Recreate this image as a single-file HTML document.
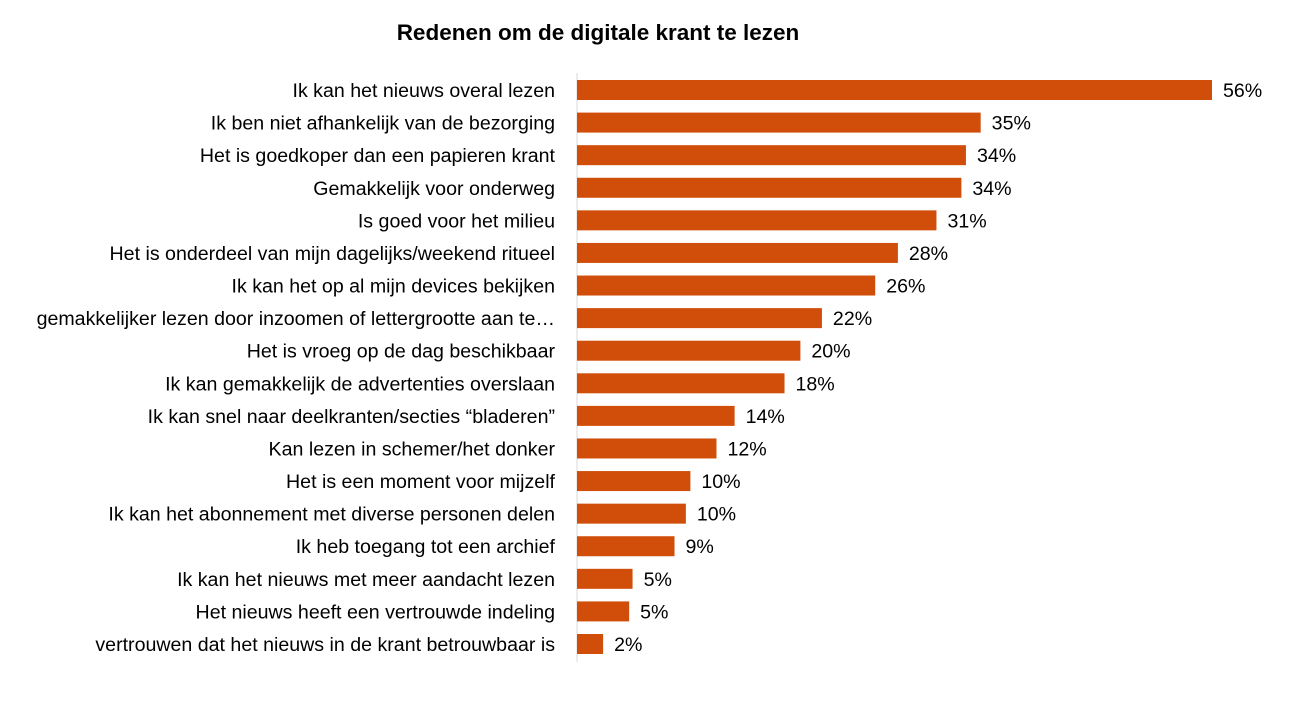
<!DOCTYPE html>
<html><head><meta charset="utf-8"><style>
html,body{margin:0;padding:0;background:#fff;}
svg{display:block;font-family:"Liberation Sans",Arial,sans-serif;}
</style></head><body>
<svg id="chart" width="1302" height="703" viewBox="0 0 1302 703">
<text x="598" y="40" text-anchor="middle" font-size="22.5" font-weight="bold" fill="#000">Redenen om de digitale krant te lezen</text>
<line x1="577" y1="73" x2="577" y2="662" stroke="#d9d9d9" stroke-width="1"/>
<g id="bars"></g>
</svg>
<script>
const categories = ["Ik kan het nieuws overal lezen","Ik ben niet afhankelijk van de bezorging","Het is goedkoper dan een papieren krant","Gemakkelijk voor onderweg","Is goed voor het milieu","Het is onderdeel van mijn dagelijks/weekend ritueel","Ik kan het op al mijn devices bekijken","gemakkelijker lezen door inzoomen of lettergrootte aan te\u2026","Het is vroeg op de dag beschikbaar","Ik kan gemakkelijk de advertenties overslaan","Ik kan snel naar deelkranten/secties \u201cbladeren\u201d","Kan lezen in schemer/het donker","Het is een moment voor mijzelf","Ik kan het abonnement met diverse personen delen","Ik heb toegang tot een archief","Ik kan het nieuws met meer aandacht lezen","Het nieuws heeft een vertrouwde indeling","vertrouwen dat het nieuws in de krant betrouwbaar is"];
const values = [56,35.6,34.3,33.9,31.7,28.3,26.3,21.6,19.7,18.3,13.9,12.3,10.0,9.6,8.6,4.9,4.6,2.3];
const valueLabels = ["56%","35%","34%","34%","31%","28%","26%","22%","20%","18%","14%","12%","10%","10%","9%","5%","5%","2%"];
const NS="http://www.w3.org/2000/svg";
const x0=577, pxPer=(1212-577)/56;
const xScale=v=>x0+v*pxPer;
const yScale=i=>90+i*(644-90)/17;
const g=document.getElementById('bars');
categories.forEach((c,i)=>{
  const y=yScale(i);
  const r=document.createElementNS(NS,'rect');
  
  
  r.setAttribute('x',x0);r.setAttribute('y',y-10);
  r.setAttribute('width',xScale(values[i])-x0);r.setAttribute('height',20);
  r.setAttribute('fill','#D04E0A');
  g.appendChild(r);
  const t=document.createElementNS(NS,'text');
  
  
  t.setAttribute('x',555);t.setAttribute('y',y+7);
  t.setAttribute('text-anchor','end');t.setAttribute('font-size','19.6');
  t.textContent=c;g.appendChild(t);
  const v=document.createElementNS(NS,'text');
  
  
  v.setAttribute('x',xScale(values[i])+11);v.setAttribute('y',y+7);
  v.setAttribute('font-size','19.6');
  v.textContent=valueLabels[i];g.appendChild(v);
});
</script>
</body></html>
